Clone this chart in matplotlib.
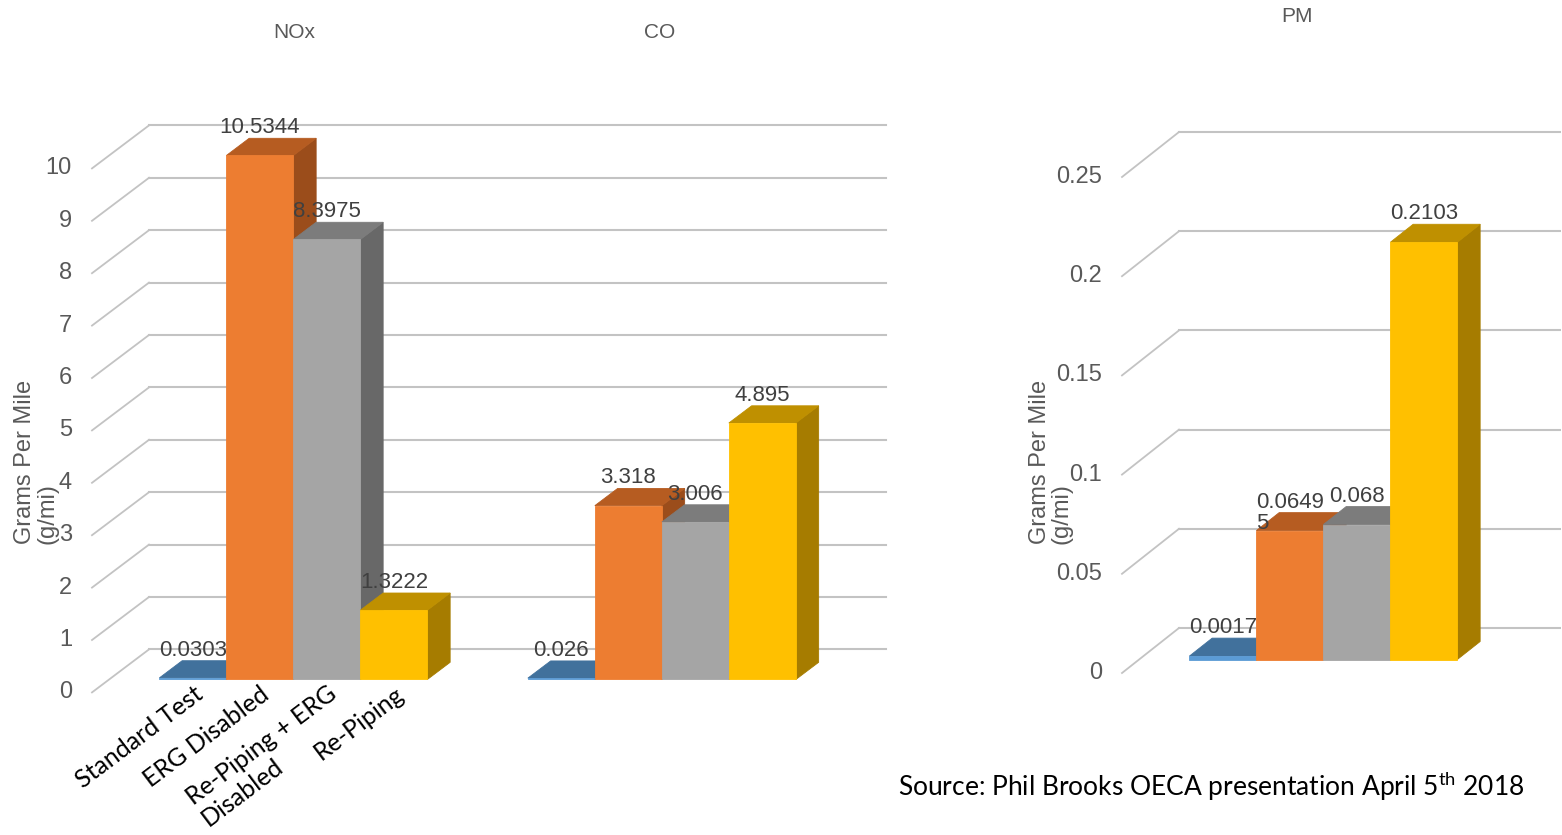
import numpy as np
import matplotlib.pyplot as plt
from matplotlib.patches import Polygon

plt.rcParams['mathtext.fontset'] = 'custom'
plt.rcParams['mathtext.rm'] = 'Lato'
plt.rcParams['font.family'] = ['Liberation Sans', 'DejaVu Sans']

W, H = 1562, 835

# emissions per test condition (g/mi)
series = ['Standard Test', 'ERG Disabled', 'Re-Piping + ERG\nDisabled', 'Re-Piping']
nox = [0.0303, 10.5344, 8.3975, 1.3222]
co = [0.026, 3.318, 3.006, 4.895]
pm = [0.0017, 0.06495, 0.068, 0.2103]
nox_labels = ['0.0303', '10.5344', '8.3975', '1.3222']
co_labels = ['0.026', '3.318', '3.006', '4.895']
pm_labels = ['0.0017', '0.0649\n5', '0.068', '0.2103']
gas_ticks = np.arange(0, 11, 1)
pm_ticks = np.linspace(0, 0.25, 6)

front_c = ['#5B9BD5', '#ED7D31', '#A5A5A5', '#FFC000']
top_c = ['#41719C', '#B65C21', '#7C7C7C', '#BF9000']
side_c = ['#3A6690', '#9B4D1B', '#686868', '#A67C00']
grid_c = '#C3C3C3'
tick_c = '#595959'
lab_c = '#404040'

fig = plt.figure(figsize=(W / 100, H / 100), dpi=100)
fig.patch.set_facecolor('white')


def panel_axes(x0, y0, sx, sy, xlim, ylim):
    # x0,y0: pixel spot of the front-left floor corner; sx,sy: pixels per unit
    left = (x0 + xlim[0] * sx) / W
    right = (x0 + xlim[1] * sx) / W
    top_px = y0 - ylim[1] * sy
    bot_px = y0 - ylim[0] * sy
    ax = fig.add_axes([left, 1 - bot_px / H, right - left, (bot_px - top_px) / H])
    ax.set_xlim(xlim)
    ax.set_ylim(ylim)
    ax.axis('off')
    return ax


def draw_panel(ax, groups, labels, ticks, ymax, floor_w, sx, sy, fmt, depth_px=(57, 44)):
    ddx = depth_px[0] / sx
    ddy = depth_px[1] / sy
    for t in ticks:
        ax.plot([0, ddx], [t, t + ddy], color=grid_c, lw=1.3, zorder=1)
        ax.plot([ddx, floor_w + ddx], [t + ddy, t + ddy], color=grid_c, lw=1.5, zorder=1)
        ax.text(-0.3, t, fmt(t), ha='right', va='center', fontsize=17, color=tick_c)
    d1, d2 = 0.3, 0.7
    ox, oy = (d2 - d1) * ddx, (d2 - d1) * ddy
    bars = []
    for g, vals in enumerate(groups):
        for i, v in enumerate(vals):
            h = min(v, ymax)
            bx = g * 5.5 + 0.75 + i + d1 * ddx
            by = d1 * ddy
            side = [(bx + 1, by), (bx + 1 + ox, by + oy), (bx + 1 + ox, by + h + oy), (bx + 1, by + h)]
            top = [(bx, by + h), (bx + 1, by + h), (bx + 1 + ox, by + h + oy), (bx + ox, by + h + oy)]
            front = [(bx, by), (bx + 1, by), (bx + 1, by + h), (bx, by + h)]
            for pts, c in ((side, side_c[i]), (top, top_c[i]), (front, front_c[i])):
                ax.add_patch(Polygon(pts, closed=True, facecolor=c, edgecolor=c, lw=0.6, zorder=2))
            txt = labels[g][i]
            ax.text(bx + 0.5, by + h + oy, txt, ha='center',
                    va='center' if '\n' in txt else 'bottom', multialignment='left',
                    fontsize=16, color=lab_c, zorder=5, linespacing=1.0)
            bars.append((bx, by))
    return bars


# NOx and CO share one set of axes
sx = 67
ax1 = panel_axes(92, 692.4, sx, 52.4, (-1.3, 12.2), (-2.9, 12.8))
bars = draw_panel(ax1, [nox, co], [nox_labels, co_labels], gas_ticks, 10, 11, sx, 52.4,
                  lambda t: f'{t:g}', depth_px=(57, 43))
for i, name in enumerate(series):
    bx, by = bars[i]
    ax1.text(bx + 0.5, by - 0.05, name, rotation=37, rotation_mode='anchor',
             ha='right', va='top', multialignment='left', fontsize=18,
             family='Lato', color='black', linespacing=1.15)

# PM on its own scale
ax2 = panel_axes(1122, 673, sx, 1984, (-1.6, 6.55), (-0.09, 0.34))
draw_panel(ax2, [pm], [pm_labels], pm_ticks, 0.25, 7, sx, 1984,
           lambda t: f'{t:g}', depth_px=(57, 45))

for name, x, y in (('NOx', 294, 33), ('CO', 660, 33), ('PM', 1297, 17)):
    fig.text(x / W, 1 - y / H, name, ha='center', va='center', fontsize=15, color=tick_c)

for x in (36, 1051):
    fig.text(x / W, 1 - 462 / H, 'Grams Per Mile\n(g/mi)', rotation=90, ha='center',
             va='center', multialignment='left', fontsize=17, color=tick_c, linespacing=1.0)

fig.text(898 / W, 1 - 786 / H, r'Source: Phil Brooks OECA presentation April 5$^{\mathrm{th}}$ 2018',
         ha='left', va='center', fontsize=19, family='Lato', color='black')

fig.savefig('out.png', dpi=100, facecolor='white')
